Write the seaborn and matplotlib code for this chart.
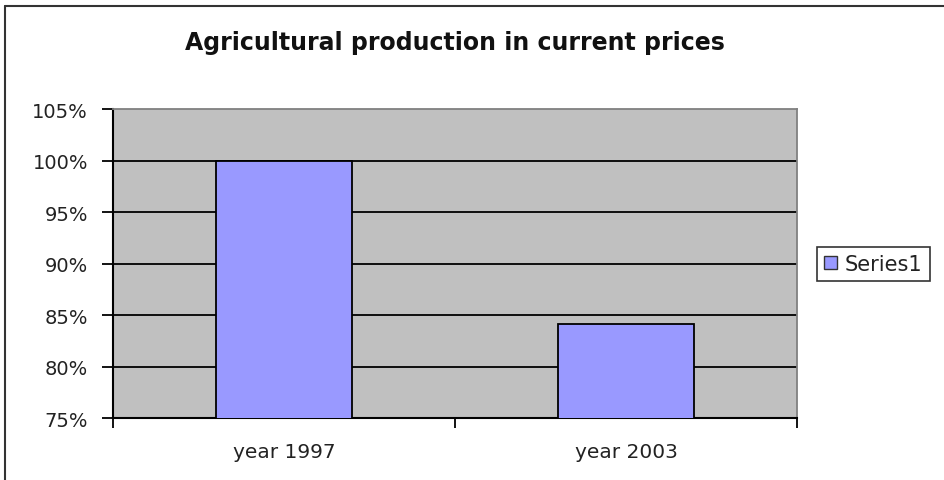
import matplotlib
matplotlib.use("Agg")
import matplotlib.pyplot as plt
import seaborn as sns
import pandas as pd
from matplotlib.ticker import PercentFormatter, MultipleLocator, FixedLocator
from matplotlib.patches import Rectangle
from matplotlib.lines import Line2D

categories = ["year 1997", "year 2003"]
values = [1.00, 0.841]
series_name = "Series1"
title = "Agricultural production in current prices"

sns.set_theme(style="white")
plt.rcParams["font.family"] = ["DejaVu Sans"]

df = pd.DataFrame({"year": categories, "value": values})

fig = plt.figure(figsize=(9.44, 4.81), dpi=100)
ax = fig.add_axes([113/944, 1 - 419/481, (797-113)/944, (419-110)/481])
ax.set_facecolor("#c0c0c0")

sns.barplot(data=df, x="year", y="value", color="#9999ff", saturation=1,
            width=0.40, edgecolor="#000000", linewidth=1.3, ax=ax, zorder=3)
if ax.get_legend() is not None:
    ax.get_legend().remove()

ax.set_ylim(0.75, 1.05)
ax.set_xlim(-0.5, 1.5)
ax.yaxis.set_major_locator(MultipleLocator(0.05))
ax.yaxis.set_major_formatter(PercentFormatter(1.0, decimals=0))
for y in [0.80, 0.85, 0.90, 0.95, 1.00]:
    ax.axhline(y, color="black", lw=1.3, zorder=1)

ax.set_xlabel("")
ax.set_ylabel("")
ax.xaxis.set_minor_locator(FixedLocator([-0.5, 0.5, 1.5]))
ax.tick_params(axis="x", which="major", length=0, pad=17, labelsize=14.5, colors="#222222")
ax.tick_params(axis="x", which="minor", length=7, width=1.3, color="black", direction="out", bottom=True)
ax.tick_params(axis="y", which="major", length=8, width=1.3, color="black", direction="out",
               pad=10, labelsize=14, left=True, labelcolor="#222222")

for side in ["top", "right"]:
    ax.spines[side].set_color("#808080")
    ax.spines[side].set_linewidth(1.3)
for side in ["left", "bottom"]:
    ax.spines[side].set_color("black")
    ax.spines[side].set_linewidth(1.5)

fig.text(455/944, 1 - 43/481, title, ha="center", va="center",
         fontsize=17, fontweight="bold", color="#111111")

handle = Rectangle((0, 0), 1, 1, facecolor="#9999ff", edgecolor="#333333", linewidth=1.0)
leg = fig.legend(handles=[handle], labels=[series_name], loc="center left",
                 bbox_to_anchor=(817/944, 1 - 265/481), frameon=True, fontsize=15,
                 handlelength=0.6, handleheight=0.6, handletextpad=0.4,
                 borderpad=0.35, borderaxespad=0, fancybox=False)
leg.get_frame().set_edgecolor("black")
leg.get_frame().set_linewidth(1.2)
for t in leg.get_texts():
    t.set_color("#222222")

fig.add_artist(Line2D([5/944, 5/944], [0, 1 - 7/481], transform=fig.transFigure, color="#333333", lw=1.5))
fig.add_artist(Line2D([5/944, 1], [1 - 7/481, 1 - 7/481], transform=fig.transFigure, color="#333333", lw=1.5))

fig.savefig("out.png", dpi=100)
